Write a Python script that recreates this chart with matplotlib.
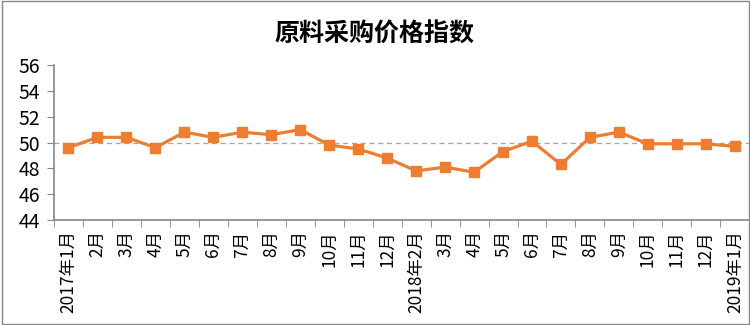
import numpy as np
import matplotlib
matplotlib.use("Agg")
import matplotlib.pyplot as plt
from matplotlib.patches import Rectangle

plt.rcParams['font.family'] = ['Noto Sans CJK SC', 'DejaVu Sans']

# data
months = ['2017年1月', '2月', '3月', '4月', '5月', '6月', '7月', '8月', '9月', '10月', '11月', '12月',
          '2018年2月', '3月', '4月', '5月', '6月', '7月', '8月', '9月', '10月', '11月', '12月',
          '2019年1月']
index_vals = [49.6, 50.4, 50.4, 49.6, 50.8, 50.4, 50.8, 50.6, 51.0, 49.8, 49.5, 48.8,
              47.8, 48.1, 47.7, 49.3, 50.1, 48.3, 50.4, 50.8, 49.9, 49.9, 49.9, 49.7]
yticks = [44, 46, 48, 50, 52, 54, 56]
title = '原料采购价格指数'

orange = '#ED7D31'
axcol = '#868686'

fig = plt.figure(figsize=(7.5, 3.25), dpi=100)
ax = fig.add_axes([0.072, 0.323, 0.927, 0.477])

x = np.arange(len(index_vals))
ax.axhline(50, color='#A5A5A5', lw=0.9, ls=(0, (4, 3)), zorder=1)
ax.plot(x, index_vals, color=orange, lw=2.3, marker='s', ms=6.5, zorder=3)

ax.set_xlim(-0.5, len(index_vals) - 0.5)
ax.set_ylim(44, 56)
ax.set_yticks(yticks)
ax.tick_params(axis='y', labelsize=14, length=5, color=axcol, pad=5)

ax.set_xticks(x)
ax.set_xticklabels(months, rotation=90, fontsize=12.5)
ax.set_xticks(np.arange(len(index_vals) + 1) - 0.5, minor=True)
ax.tick_params(axis='x', which='major', length=0, pad=7.5)
ax.tick_params(axis='x', which='minor', length=5, color=axcol)

for s in ['top', 'right']:
    ax.spines[s].set_visible(False)
for s in ['left', 'bottom']:
    ax.spines[s].set_color(axcol)
    ax.spines[s].set_linewidth(1.2)

fig.text(0.5, 0.895, title, ha='center', va='center', fontsize=18, fontweight='bold')

# outer border
fig.patches.append(Rectangle((0.002, 0.003), 0.996, 0.994, transform=fig.transFigure,
                             fill=False, edgecolor=axcol, lw=1))

fig.savefig('out.png', dpi=100)
